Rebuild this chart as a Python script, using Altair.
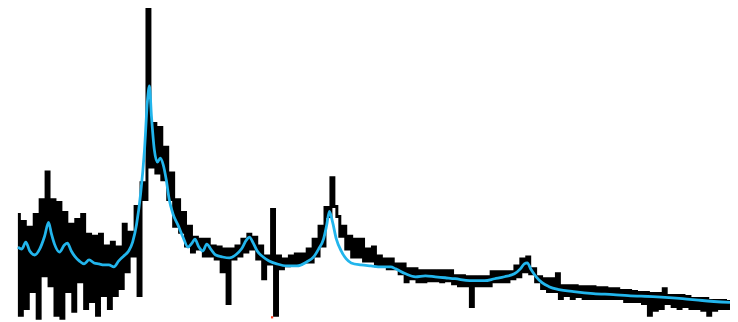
import altair as alt
import pandas as pd

# Raw spectrum (noisy), sampled every 3 units starting at 10
raw_start = 10
raw_step = 3
raw_intensity = [
    107, 5, 100, 12, 94, 29, 107, 2, 122, 45, 150, 35, 122, 5, 119, 2, 109, 29, 97, 9,
    102, 39, 107, 12, 87, 19, 85, 5, 87, 25, 75, 12, 79, 25, 74, 32, 97, 49, 89, 65,
    115, 25, 139, 122, 317, 155, 199, 149, 195, 142, 175, 122, 149, 95, 122, 89, 109, 75, 95, 69,
    84, 72, 82, 65, 82, 65, 75, 62, 74, 49, 72, 17, 72, 62, 75, 65, 82, 69, 87, 72,
    84, 62, 75, 42, 65, 57, 112, 5, 65, 52, 62, 55, 65, 57, 67, 57, 67, 59, 72, 59,
    82, 65, 95, 75, 114, 105, 144, 115, 105, 85, 95, 72, 85, 64, 82, 64, 82, 60, 72, 60,
    74, 55, 65, 55, 62, 52, 62, 52, 57, 47, 57, 39, 52, 42, 52, 39, 50, 39, 50, 40,
    50, 40, 50, 39, 50, 40, 50, 37, 45, 35, 45, 35, 44, 14, 44, 35, 44, 35, 44, 35,
    49, 39, 49, 39, 49, 39, 49, 42, 55, 44, 62, 49, 64, 47, 52, 39, 44, 32, 42, 29,
    42, 29, 47, 22, 35, 25, 35, 22, 35, 24, 34, 22, 34, 22, 34, 22, 33, 22, 33, 22,
    32, 22, 32, 22, 30, 19, 30, 19, 29, 19, 28, 17, 28, 5, 27, 10, 27, 12, 32, 17,
    25, 14, 25, 12, 25, 14, 24, 12, 22, 12, 22, 10, 22, 5, 20, 10, 20, 12, 20, 12,
    19,
]

# Smoothed spectrum
smooth_x = [10, 14, 18, 22, 27, 32, 37, 41, 44, 47, 52, 57, 60, 64, 68, 72, 77, 82, 87, 92,
            97, 102, 107, 112, 117, 122, 126, 130, 134, 138, 141, 143, 145, 148, 151, 154, 157, 160, 163, 167,
            172, 177, 182, 186, 189, 193, 197, 201, 205, 210, 217, 224, 230, 236, 241, 244, 248, 252, 258, 264,
            272, 282, 292, 302, 309, 314, 319, 322, 325, 328, 332, 337, 342, 347, 357, 367, 377, 387, 392, 402,
            412, 422, 432, 442, 452, 467, 482, 492, 502, 512, 518, 522, 525, 529, 534, 540, 547, 557, 572, 592,
            612, 627, 652, 682, 702, 730]
smooth_intensity = [74, 72, 79, 70, 66, 72, 85, 99, 87, 77, 69, 76, 78, 70, 64, 60, 57, 61, 58, 57,
                    56, 56, 54, 60, 65, 70, 79, 97, 127, 172, 222, 237, 207, 172, 160, 164, 157, 142, 122, 107,
                    96, 84, 74, 78, 82, 74, 70, 77, 72, 66, 64, 63, 66, 72, 81, 84, 78, 70, 64, 60,
                    57, 55, 55, 59, 64, 72, 82, 95, 110, 100, 82, 70, 62, 58, 56, 55, 54, 54, 52, 47,
                    44, 45, 44, 43, 42, 40, 40, 42, 44, 47, 52, 57, 58, 51, 44, 38, 34, 31, 29, 27,
                    26, 25, 24, 22, 20, 18]

# Marker
marker_x = [267]
marker_intensity = [3]

raw_df = pd.DataFrame({
    "x": [raw_start + raw_step * i for i in range(len(raw_intensity))],
    "v": raw_intensity,
})
smooth_df = pd.DataFrame({"x": smooth_x, "v": smooth_intensity})
marker_df = pd.DataFrame({"x": marker_x, "v": marker_intensity})

xs = alt.Scale(domain=[0, 730], nice=False, zero=False)
ys = alt.Scale(domain=[0, 314], nice=False, zero=False)
xenc = alt.X("x:Q", scale=xs, axis=None)
yenc = alt.Y("v:Q", scale=ys, axis=None)

raw = alt.Chart(raw_df).mark_line(
    color="black", strokeWidth=3.0, interpolate="step", clip=False
).encode(x=xenc, y=yenc)

smooth = alt.Chart(smooth_df).mark_line(
    color="#22b5ec", strokeWidth=2.8, interpolate="monotone", clip=False
).encode(x=xenc, y=yenc)

marker = alt.Chart(marker_df).mark_square(
    color="#ff3b1f", size=5, opacity=1
).encode(x=xenc, y=yenc)

chart = alt.layer(raw, smooth, marker).properties(
    width=730, height=314, padding=0, background="white",
    autosize=alt.AutoSizeParams(type="none"),
).configure_view(stroke=None, strokeWidth=0)

chart.save("out.html", embed_options={"renderer": "svg", "actions": False})
